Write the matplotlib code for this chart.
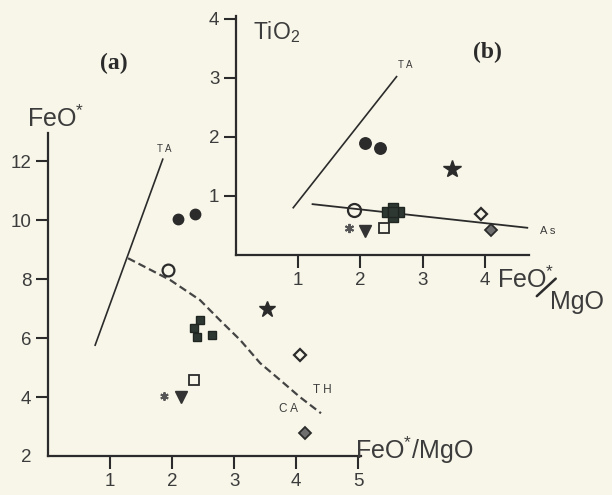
import matplotlib
matplotlib.use("Agg")
import matplotlib.pyplot as plt

plt.rcParams['font.family'] = ['Liberation Sans', 'DejaVu Sans']
plt.rcParams['mathtext.fontset'] = 'custom'
plt.rcParams['mathtext.rm'] = 'Liberation Sans'
plt.rcParams['mathtext.it'] = 'Liberation Sans'

bg = '#f8f6e9'
ink = '#2b2b2b'
txt = '#3c3c3c'

# ---- panel (a): FeO* vs FeO*/MgO ----
a_fill_circle_x = [2.10, 2.37]
a_fill_circle_y = [10.03, 10.20]
a_open_circle_x = [1.94]
a_open_circle_y = [8.30]
a_star_x = [3.53]
a_star_y = [7.00]
a_square_x = [2.45, 2.35, 2.40, 2.65]
a_square_y = [6.61, 6.34, 6.03, 6.10]
a_open_diamond_x = [4.06]
a_open_diamond_y = [5.42]
a_open_square_x = [2.35]
a_open_square_y = [4.58]
a_asterisk_x = [1.87]
a_asterisk_y = [4.03]
a_triangle_x = [2.15]
a_triangle_y = [4.00]
a_gray_diamond_x = [4.15]
a_gray_diamond_y = [2.78]

a_ta_x = [0.76, 1.85]
a_ta_y = [5.76, 12.07]
a_thca_x = [1.29, 1.97, 2.45, 2.77, 3.10, 3.42, 3.74, 4.06, 4.40]
a_thca_y = [8.71, 7.97, 7.29, 6.61, 5.93, 5.15, 4.58, 4.00, 3.45]

a_xticks = [1, 2, 3, 4, 5]
a_yticks = [2, 4, 6, 8, 10, 12]

# ---- panel (b): TiO2 vs FeO*/MgO ----
b_fill_circle_x = [2.08, 2.31]
b_fill_circle_y = [1.90, 1.81]
b_open_circle_x = [1.89]
b_open_circle_y = [0.76]
b_star_x = [3.47]
b_star_y = [1.46]
b_square_x = [2.42, 2.62, 2.52, 2.52, 2.52]
b_square_y = [0.72, 0.72, 0.65, 0.79, 0.72]
b_open_diamond_x = [3.94]
b_open_diamond_y = [0.69]
b_open_square_x = [2.37]
b_open_square_y = [0.46]
b_asterisk_x = [1.82]
b_asterisk_y = [0.46]
b_triangle_x = [2.08]
b_triangle_y = [0.41]
b_gray_diamond_x = [4.10]
b_gray_diamond_y = [0.42]

b_ta_x = [0.92, 2.58]
b_ta_y = [0.80, 3.02]
b_as_x = [1.23, 4.68]
b_as_y = [0.86, 0.46]

b_xticks = [1, 2, 3, 4]
b_yticks = [1, 2, 3, 4]

fig = plt.figure(figsize=(6.12, 4.95), dpi=100, facecolor=bg)
ax_a = fig.add_axes([0.0784, 0.0788, 0.512, 0.652])
ax_b = fig.add_axes([0.3856, 0.485, 0.478, 0.483])


def style_axes(ax):
    ax.set_facecolor('none')
    for s in ['top', 'right']:
        ax.spines[s].set_visible(False)
    for s in ['left', 'bottom']:
        ax.spines[s].set_linewidth(1.6)
        ax.spines[s].set_color(ink)
    ax.tick_params(direction='out', length=9, width=1.5, color=ink,
                   labelsize=13.5, labelcolor=txt, pad=3)


def draw_points(ax, d, big=1.0):
    ax.plot(d['fc'][0], d['fc'][1], 'o', ms=7.5 * big, color=ink, mec=ink, ls='none')
    ax.plot(d['oc'][0], d['oc'][1], 'o', ms=8.5 * big, mfc='none', mec=ink, mew=1.6, ls='none')
    ax.plot(d['st'][0], d['st'][1], '*', ms=12 * big, color=ink, ls='none')
    ax.plot(d['sq'][0], d['sq'][1], 's', ms=6 * big, color='#2e3833', mec='#1f2622', ls='none')
    ax.plot(d['od'][0], d['od'][1], 'D', ms=6 * big, mfc='none', mec=ink, mew=1.6, ls='none')
    ax.plot(d['os'][0], d['os'][1], 's', ms=6.5 * big, mfc='none', mec=ink, mew=1.3, ls='none')
    ax.plot(d['as'][0], d['as'][1], marker=(6, 2, 0), ms=6 * big, mec='#555555', mew=1.4, ls='none')
    ax.plot(d['tr'][0], d['tr'][1], 'v', ms=8.5 * big, color='#333333', ls='none')
    ax.plot(d['gd'][0], d['gd'][1], 'D', ms=6 * big, mfc='#6e6e6e', mec=ink, mew=1.3, ls='none')


# panel (a)
style_axes(ax_a)
ax_a.set_xlim(0, 5.05)
ax_a.set_ylim(2, 12.95)
ax_a.set_xticks(a_xticks)
ax_a.set_yticks(a_yticks)
ax_a.yaxis.get_major_ticks()[0].tick1line.set_visible(False)
ax_a.plot(a_ta_x, a_ta_y, color=ink, lw=1.2)
ax_a.plot(a_thca_x, a_thca_y, color='#444444', lw=1.6, ls=(0, (3.5, 1.8)))
draw_points(ax_a, {
    'fc': (a_fill_circle_x, a_fill_circle_y), 'oc': (a_open_circle_x, a_open_circle_y),
    'st': (a_star_x, a_star_y), 'sq': (a_square_x, a_square_y),
    'od': (a_open_diamond_x, a_open_diamond_y), 'os': (a_open_square_x, a_open_square_y),
    'as': (a_asterisk_x, a_asterisk_y), 'tr': (a_triangle_x, a_triangle_y),
    'gd': (a_gray_diamond_x, a_gray_diamond_y)})
ax_a.text(1.87, 12.4, 'T A', fontsize=7, color=txt, ha='center', va='center')
ax_a.text(4.42, 4.24, 'T H', fontsize=8.5, color=txt, ha='center', va='center')
ax_a.text(3.87, 3.59, 'C A', fontsize=8.5, color=txt, ha='center', va='center')
ax_a.text(0.12, 13.45, 'FeO$^{*}$', fontsize=18, color=txt, ha='center', va='center', clip_on=False)
ax_a.text(4.95, 2.2, 'FeO$^{*}$/MgO', fontsize=18, color=txt, ha='left', va='center', clip_on=False)
fig.text(114 / 612, 1 - 63 / 495, '(a)', fontsize=17, fontweight='bold',
         family='Liberation Serif', color=ink, ha='center', va='center')

# panel (b)
style_axes(ax_b)
ax_b.set_xlim(0, 4.7)
ax_b.set_ylim(0, 4.05)
ax_b.set_xticks(b_xticks)
ax_b.set_yticks(b_yticks)
ax_b.plot(b_ta_x, b_ta_y, color=ink, lw=1.2)
ax_b.plot(b_as_x, b_as_y, color=ink, lw=1.3)
draw_points(ax_b, {
    'fc': (b_fill_circle_x, b_fill_circle_y), 'oc': (b_open_circle_x, b_open_circle_y),
    'st': (b_star_x, b_star_y), 'sq': (b_square_x, b_square_y),
    'od': (b_open_diamond_x, b_open_diamond_y), 'os': (b_open_square_x, b_open_square_y),
    'as': (b_asterisk_x, b_asterisk_y), 'tr': (b_triangle_x, b_triangle_y),
    'gd': (b_gray_diamond_x, b_gray_diamond_y)}, big=1.1)
ax_b.text(2.72, 3.22, 'T A', fontsize=7, color=txt, ha='center', va='center')
ax_b.text(5.0, 0.41, 'A s', fontsize=8, color=txt, ha='center', va='center', clip_on=False)
ax_b.text(0.27, 3.78, 'TiO$_{2}$', fontsize=16.5, color=txt, ha='left', va='center', clip_on=False)
ax_b.text(4.19, -0.42, 'FeO$^{*}$', fontsize=18, color=txt, ha='left', va='center', clip_on=False)
ax_b.text(5.05, -0.8, 'MgO', fontsize=18, color=txt, ha='left', va='center', clip_on=False)
ax_b.annotate('', xy=(5.17, -0.37), xytext=(4.8, -0.73), xycoords='data',
              arrowprops=dict(arrowstyle='-', color=ink, lw=1.8), annotation_clip=False)
fig.text(487 / 612, 1 - 52 / 495, '(b)', fontsize=17, fontweight='bold',
         family='Liberation Serif', color=ink, ha='center', va='center')

fig.savefig('out.png', dpi=100, facecolor=bg)
